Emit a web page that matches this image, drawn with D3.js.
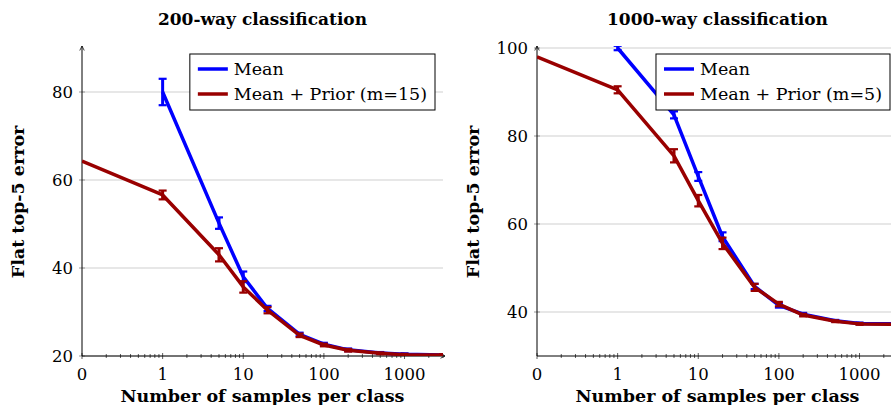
<!DOCTYPE html>
<html>
<head>
<meta charset="utf-8">
<script src="https://cdn.jsdelivr.net/npm/d3@7"></script>
<style>
  body { margin: 0; background: #fff; }
</style>
</head>
<body>
<div id="chart-area"></div>
<script>
// samples per class (0 is drawn at the 0.1 position of the log axis)
var samples = [0, 1, 5, 10, 20, 50, 100, 200, 500, 1000, 3000];
var xTickValues = [0.1, 1, 10, 100, 1000];
var xTickLabels = ["0", "1", "10", "100", "1000"];

// 200-way classification
var mean200      = [null, 80.0, 50.2, 38.0, 30.8, 24.9, 22.7, 21.4, 20.7, 20.4, 20.2];
var mean200Err   = [null, 3.0, 1.3, 1.2, 0.6, 0.4, 0.3, 0.3, 0.2, 0.2, 0.2];
var prior200     = [64.3, 56.6, 43.0, 35.7, 30.4, 24.7, 22.5, 21.3, 20.6, 20.3, 20.2];
var prior200Err  = [0, 1.0, 1.5, 1.3, 0.7, 0.4, 0.3, 0.3, 0.2, 0.2, 0.2];
var yTicks200    = [20, 40, 60, 80];

// 1000-way classification
var mean1000     = [null, 100.0, 84.8, 70.8, 57.1, 45.8, 41.5, 39.5, 38.0, 37.4, 37.3];
var mean1000Err  = [null, 0.5, 0.8, 1.0, 1.0, 0.6, 0.5, 0.3, 0.2, 0.2, 0.2];
var prior1000    = [98.0, 90.5, 75.5, 65.3, 55.6, 45.6, 41.8, 39.3, 37.9, 37.3, 37.2];
var prior1000Err = [0, 0.8, 1.5, 1.3, 1.3, 0.8, 0.5, 0.3, 0.2, 0.2, 0.2];
var yTicks1000   = [40, 60, 80, 100];

var W = 891, H = 405;
var blue = "#0000ff", red = "#990000";
var serif = "'DejaVu Serif', serif";

var svg = d3.select("#chart-area")
    .append("svg")
        .attr("width", W)
        .attr("height", H)
        .attr("font-family", serif);

svg.append("defs").append("marker")
    .attr("id", "arrow")
    .attr("viewBox", "0 -4 8 8")
    .attr("refX", 7)
    .attr("refY", 0)
    .attr("markerWidth", 6)
    .attr("markerHeight", 6)
    .attr("markerUnits", "userSpaceOnUse")
    .attr("orient", "auto")
    .append("path")
        .attr("d", "M1,-3 L7,0 L1,3")
        .attr("fill", "none")
        .attr("stroke", "#000")
        .attr("stroke-width", 1);

function drawPanel(o) {
    var left = o.left, top = 48, bottom = 356, pw = 361;

    var x = d3.scaleLog().domain([0.1, 3000]).range([left, left + pw]);
    var y = d3.scaleLinear().domain(o.yDomain).range([bottom, top]);
    var xp = function(v) { return x(v === 0 ? 0.1 : v); };

    var g = svg.append("g");
    var clipId = "clip" + left;
    svg.select("defs").append("clipPath")
        .attr("id", clipId)
        .append("rect")
            .attr("x", left)
            .attr("y", top - 2)
            .attr("width", pw)
            .attr("height", bottom - top + 2);

    // title
    g.append("text")
        .attr("x", left + pw / 2)
        .attr("y", 25)
        .attr("text-anchor", "middle")
        .attr("font-size", "17px")
        .attr("font-weight", "bold")
        .text(o.title);

    // grid lines
    g.selectAll(".grid")
        .data(o.yTicks)
        .enter()
        .append("line")
            .attr("x1", left)
            .attr("x2", left + pw)
            .attr("y1", function(d) { return y(d); })
            .attr("y2", function(d) { return y(d); })
            .attr("stroke", "#d0d0d0")
            .attr("stroke-width", 1.2);

    // y ticks + labels
    g.selectAll(".ytick")
        .data(o.yTicks)
        .enter()
        .append("line")
            .attr("x1", left - 3)
            .attr("x2", left + 3)
            .attr("y1", function(d) { return y(d); })
            .attr("y2", function(d) { return y(d); })
            .attr("stroke", "#999");

    g.selectAll(".ylab")
        .data(o.yTicks)
        .enter()
        .append("text")
            .attr("x", left - 9)
            .attr("y", function(d) { return y(d) + 6; })
            .attr("text-anchor", "end")
            .attr("font-size", "16.5px")
            .text(function(d) { return d; });

    // x ticks: major and minor
    var minor = [];
    [0.1, 1, 10, 100, 1000].forEach(function(dec) {
        for (var k = 2; k <= 9; k++) {
            if (dec * k <= 3000) minor.push(dec * k);
        }
    });
    g.selectAll(".xminor")
        .data(minor)
        .enter()
        .append("line")
            .attr("x1", function(d) { return x(d); })
            .attr("x2", function(d) { return x(d); })
            .attr("y1", bottom - 2)
            .attr("y2", bottom + 2)
            .attr("stroke", "#333")
            .attr("stroke-width", 0.8);
    g.selectAll(".xmajor")
        .data(xTickValues)
        .enter()
        .append("line")
            .attr("x1", function(d) { return x(d); })
            .attr("x2", function(d) { return x(d); })
            .attr("y1", bottom - 3)
            .attr("y2", bottom + 3)
            .attr("stroke", "#333")
            .attr("stroke-width", 0.8);
    g.selectAll(".xlab")
        .data(xTickValues)
        .enter()
        .append("text")
            .attr("x", function(d) { return x(d); })
            .attr("y", 380)
            .attr("text-anchor", "middle")
            .attr("font-size", "16.5px")
            .text(function(d, i) { return xTickLabels[i]; });

    // axis lines with arrows
    g.append("line")
        .attr("x1", left).attr("x2", left)
        .attr("y1", bottom).attr("y2", top - 2)
        .attr("stroke", "#000")
        .attr("marker-end", "url(#arrow)");
    g.append("line")
        .attr("x1", left).attr("x2", left + pw + 2)
        .attr("y1", bottom).attr("y2", bottom)
        .attr("stroke", "#000")
        .attr("marker-end", "url(#arrow)");

    // axis labels
    g.append("text")
        .attr("x", left + pw / 2)
        .attr("y", 402)
        .attr("text-anchor", "middle")
        .attr("font-size", "17.5px")
        .attr("font-weight", "bold")
        .text("Number of samples per class");
    g.append("text")
        .attr("transform", "translate(" + (left - 58) + "," + ((top + bottom) / 2) + ") rotate(-90)")
        .attr("text-anchor", "middle")
        .attr("font-size", "17.5px")
        .attr("font-weight", "bold")
        .text("Flat top-5 error");

    // series
    var plot = g.append("g").attr("clip-path", "url(#" + clipId + ")");
    var series = [
        { vals: o.mean, err: o.meanErr, color: blue },
        { vals: o.prior, err: o.priorErr, color: red }
    ];
    var line = d3.line()
        .defined(function(d) { return d.v !== null; })
        .x(function(d) { return xp(d.s); })
        .y(function(d) { return y(d.v); });

    series.forEach(function(s) {
        var pts = samples.map(function(v, i) {
            return { s: v, v: s.vals[i], e: s.err[i] };
        });
        plot.append("path")
            .datum(pts)
            .attr("d", line)
            .attr("fill", "none")
            .attr("stroke", s.color)
            .attr("stroke-width", 3.5)
            .attr("stroke-linejoin", "round");

        var eb = plot.selectAll(null)
            .data(pts.filter(function(d) { return d.v !== null && d.e > 0; }))
            .enter()
            .append("g")
                .attr("stroke", s.color)
                .attr("stroke-width", 2.2);
        eb.append("line")
            .attr("x1", function(d) { return xp(d.s); })
            .attr("x2", function(d) { return xp(d.s); })
            .attr("y1", function(d) { return y(d.v - d.e); })
            .attr("y2", function(d) { return y(d.v + d.e); })
            .attr("stroke-width", 3);
        eb.append("line")
            .attr("x1", function(d) { return xp(d.s) - 4; })
            .attr("x2", function(d) { return xp(d.s) + 4; })
            .attr("y1", function(d) { return y(d.v - d.e); })
            .attr("y2", function(d) { return y(d.v - d.e); });
        eb.append("line")
            .attr("x1", function(d) { return xp(d.s) - 4; })
            .attr("x2", function(d) { return xp(d.s) + 4; })
            .attr("y1", function(d) { return y(d.v + d.e); })
            .attr("y2", function(d) { return y(d.v + d.e); });
    });

    // legend
    var lg = g.append("g");
    var box = lg.append("rect")
        .attr("y", 54)
        .attr("height", 56)
        .attr("fill", "#fff")
        .attr("stroke", "#000")
        .attr("stroke-width", 1);
    var names = ["Mean", o.priorName];
    var colors = [blue, red];
    var maxW = 0;
    var items = names.map(function(n, i) {
        var t = lg.append("text")
            .attr("y", 75 + i * 25)
            .attr("font-size", "17.5px")
            .text(n);
        maxW = Math.max(maxW, t.node().getComputedTextLength());
        return t;
    });
    var boxRight = left + pw - 8;
    var boxW = maxW + 52;
    var bx = boxRight - boxW;
    box.attr("x", bx).attr("width", boxW);
    items.forEach(function(t, i) {
        t.attr("x", bx + 44);
        lg.append("line")
            .attr("x1", bx + 8)
            .attr("x2", bx + 38)
            .attr("y1", 69 + i * 25)
            .attr("y2", 69 + i * 25)
            .attr("stroke", colors[i])
            .attr("stroke-width", 3.5);
    });
}

drawPanel({
    left: 82, title: "200-way classification", yDomain: [20, 90], yTicks: yTicks200,
    mean: mean200, meanErr: mean200Err, prior: prior200, priorErr: prior200Err,
    priorName: "Mean + Prior (m=15)"
});
drawPanel({
    left: 537, title: "1000-way classification", yDomain: [30, 100], yTicks: yTicks1000,
    mean: mean1000, meanErr: mean1000Err, prior: prior1000, priorErr: prior1000Err,
    priorName: "Mean + Prior (m=5)"
});
</script>
</body>
</html>
